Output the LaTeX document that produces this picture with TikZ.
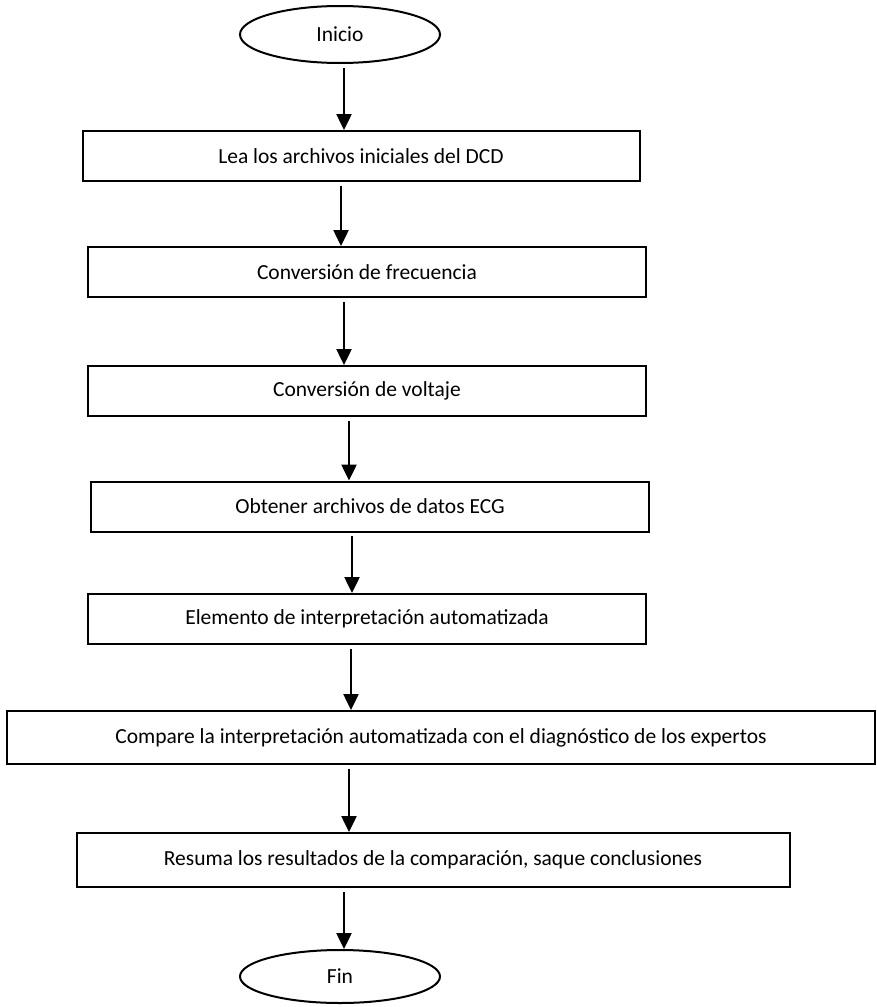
\documentclass[tikz,border=0pt]{standalone}
\usepackage{fontspec}
\setmainfont{Carlito}
\usepackage{tikz}
\usetikzlibrary{arrows.meta,shapes.geometric}

\begin{document}
\begin{tikzpicture}[x=1pt, y=-1pt,
  caja/.style={draw, line width=2pt, minimum width=558pt, minimum height=50pt, inner sep=0pt, align=center},
  termino/.style={draw, ellipse, line width=2pt, minimum width=200pt, inner sep=0pt},
  flecha/.style={-{Triangle[length=16pt,width=15pt]}, line width=2.5pt, shorten <=3.5pt}]
\useasboundingbox (0,0) rectangle (876,1007);
\fontsize{21.5}{26}\selectfont
\node[termino, minimum height=57pt] (inicio) at (340,34.5) {Inicio};
\node[caja, minimum width=557pt] (lea) at (361,156) {Lea los archivos iniciales del DCD};
\node[caja] (frec) at (367,272)   {Conversión de frecuencia};
\node[caja] (volt) at (367,391)   {Conversión de voltaje};
\node[caja] (ecg)  at (370,506.5) {Obtener archivos de datos ECG};
\node[caja] (elem) at (367,619)   {Elemento de interpretación automatizada};
\node[caja, minimum width=868pt, minimum height=53pt] (comp) at (441,737.5) {Compare la interpretación automatizada con el diagnóstico de los expertos};
\node[caja, minimum width=713pt, minimum height=54pt] (resu) at (433,860) {Resuma los resultados de la comparación, saque conclusiones};
\node[termino, minimum height=53pt] (fin) at (340,976.5) {Fin};
\foreach \a/\b/\x in {inicio/lea/344, lea/frec/341, frec/volt/344, volt/ecg/349,
                       ecg/elem/352, elem/comp/351, comp/resu/349, resu/fin/344}
  \draw[flecha] (\x,0 |- \a.south) -- (\x,0 |- \b.north);
\end{tikzpicture}
\end{document}
